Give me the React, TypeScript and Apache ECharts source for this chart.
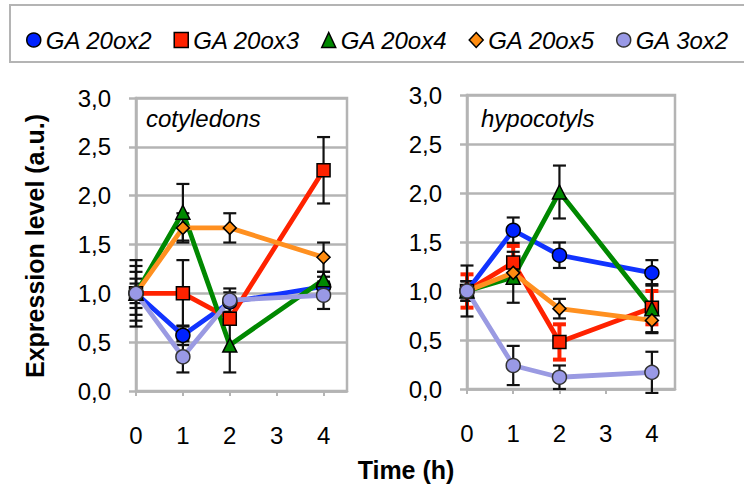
import React, { useEffect, useRef } from "react";
import * as echarts from "echarts";

// ---------- data ----------
const seriesNames = ["GA 20ox2", "GA 20ox3", "GA 20ox4", "GA 20ox5", "GA 3ox2"];
const times = [0, 1, 2, 4];
const xTickValues = [0, 1, 2, 3, 4];
const xTickLabels = ["0", "1", "2", "3", "4"];
const yTickValues = [0, 0.5, 1, 1.5, 2, 2.5, 3];
const panelTitles = ["cotyledons", "hypocotyls"];

// cotyledons
const cotGA20ox2 = [1.0, 0.57, 0.91, 1.07];
const cotGA20ox2Err = [0.22, 0.1, 0.1, 0.1];
const cotGA20ox3 = [1.0, 1.0, 0.74, 2.26];
const cotGA20ox3Err = [0.34, 0.34, 0.05, 0.34];
const cotGA20ox4 = [1.0, 1.83, 0.47, 1.14];
const cotGA20ox4Err = [0.28, 0.29, 0.28, 0.08];
const cotGA20ox5 = [1.0, 1.67, 1.67, 1.37];
const cotGA20ox5Err = [0.15, 0.15, 0.15, 0.15];
const cotGA3ox2 = [1.0, 0.35, 0.93, 0.98];
const cotGA3ox2Err = [0.1, 0.16, 0.12, 0.14];

// hypocotyls
const hypGA20ox2 = [1.0, 1.62, 1.365, 1.185];
const hypGA20ox2Err = [0.1, 0.13, 0.13, 0.13];
const hypGA20ox3 = [1.0, 1.29, 0.48, 0.83];
const hypGA20ox3Err = [0.17, 0.17, 0.18, 0.17];
const hypGA20ox4 = [1.0, 1.14, 2.01, 0.82];
const hypGA20ox4Err = [0.26, 0.26, 0.27, 0.25];
const hypGA20ox5 = [1.0, 1.185, 0.82, 0.7];
const hypGA20ox5Err = [0.1, 0.1, 0.1, 0.12];
const hypGA3ox2 = [1.0, 0.24, 0.12, 0.17];
const hypGA3ox2Err = [0.1, 0.2, 0.12, 0.21];

const panelValues = [
  [cotGA20ox2, cotGA20ox3, cotGA20ox4, cotGA20ox5, cotGA3ox2],
  [hypGA20ox2, hypGA20ox3, hypGA20ox4, hypGA20ox5, hypGA3ox2],
];
const panelErrors = [
  [cotGA20ox2Err, cotGA20ox3Err, cotGA20ox4Err, cotGA20ox5Err, cotGA3ox2Err],
  [hypGA20ox2Err, hypGA20ox3Err, hypGA20ox4Err, hypGA20ox5Err, hypGA3ox2Err],
];

// ---------- style ----------
const FONT = '"Liberation Sans", Arial, sans-serif';
const NARROW = '"Liberation Sans Narrow", "Liberation Sans", Arial, sans-serif';
const GRAY = "#b4b4b4";
const lineColors = ["#1133ff", "#ff2200", "#008800", "#ff9020", "#9a9ae2"];
const markerColors = ["#0022ff", "#ff2200", "#008800", "#ff8c10", "#9999e6"];
const markerBorders = ["#000", "#000", "#000", "#000", "#333"];
const symbols = ["circle", "rect", "triangle", "diamond", "circle"];
const symbolSizes = [14, 13, 14, 13, 14];
const errColors = [
  ["#111", "#111", "#111", "#111", "#111"],
  ["#111", "#ff2200", "#111", "#111", "#111"],
];
const errWidths = [
  [2.2, 2.2, 2.2, 2.2, 2.2],
  [2.2, 4, 2.2, 2.2, 2.2],
];
const grids = [
  { left: 136, top: 98, width: 211, height: 293 },
  { left: 467, top: 95, width: 208, height: 294 },
];
const titlePos = [
  [146, 118],
  [481, 118],
];

function buildOption() {
  const series: any[] = [];
  for (let p = 0; p < 2; p++) {
    for (let s = 0; s < seriesNames.length; s++) {
      const vals = panelValues[p][s];
      const errs = panelErrors[p][s];
      const color = errColors[p][s];
      const lw = errWidths[p][s];
      series.push({
        type: "custom",
        xAxisIndex: p,
        yAxisIndex: p,
        silent: true,
        z: 1,
        encode: { x: 0, y: [1, 2] },
        data: times.map((t, j) => [t, vals[j] - errs[j], vals[j] + errs[j]]),
        renderItem: (params: any, api: any) => {
          const x = api.value(0);
          const lo = api.value(1);
          const hi = api.value(2);
          const a = api.coord([x, hi]);
          const b = api.coord([x, lo]);
          const hw = 6.5;
          const st = { stroke: color, lineWidth: lw };
          return {
            type: "group",
            children: [
              { type: "line", shape: { x1: a[0], y1: a[1], x2: b[0], y2: b[1] }, style: st },
              { type: "line", shape: { x1: a[0] - hw, y1: a[1], x2: a[0] + hw, y2: a[1] }, style: st },
              { type: "line", shape: { x1: b[0] - hw, y1: b[1], x2: b[0] + hw, y2: b[1] }, style: st },
            ],
          };
        },
      });
    }
    for (let s = 0; s < seriesNames.length; s++) {
      const vals = panelValues[p][s];
      series.push({
        type: "line",
        name: seriesNames[s],
        xAxisIndex: p,
        yAxisIndex: p,
        z: 3,
        data: times.map((t, j) => [t, vals[j]]),
        symbol: symbols[s],
        symbolSize: symbolSizes[s],
        showAllSymbol: true,
        lineStyle: { color: lineColors[s], width: 4.8 },
        itemStyle: { color: markerColors[s], borderColor: markerBorders[s], borderWidth: 1.5 },
        emphasis: { disabled: true },
      });
    }
  }

  const xAxis = grids.map((_, p) => ({
    type: "value",
    gridIndex: p,
    min: 0,
    max: 4.5,
    interval: 1,
    axisLine: { show: true, lineStyle: { color: GRAY, width: 2.5 } },
    axisTick: { show: true, length: 5, lineStyle: { color: GRAY, width: 2 }, customValues: xTickValues },
    axisLabel: {
      customValues: xTickValues,
      margin: 32,
      fontSize: 24,
      fontFamily: NARROW,
      color: "#000",
      formatter: (v: number) => {
        const i = xTickValues.indexOf(v);
        return i >= 0 ? xTickLabels[i] : "";
      },
    },
    splitLine: { show: false },
  }));

  const yAxis = grids.map((_, p) => ({
    type: "value",
    gridIndex: p,
    min: 0,
    max: 3,
    interval: 0.5,
    axisLine: { show: true, lineStyle: { color: GRAY, width: 2.5 } },
    axisTick: { show: true, length: 7, lineStyle: { color: GRAY, width: 2.5 } },
    axisLabel: {
      margin: 25,
      fontSize: 24,
      fontFamily: FONT,
      color: "#000",
      formatter: (v: number) => (yTickValues.indexOf(v) >= 0 ? v.toFixed(1).replace(".", ",") : ""),
    },
    splitLine: { show: true, lineStyle: { color: GRAY, width: 2.5 } },
  }));

  return {
    animation: false,
    backgroundColor: "#fff",
    grid: grids.map((g) => ({
      ...g,
      show: true,
      borderColor: GRAY,
      borderWidth: 2.5,
      backgroundColor: "transparent",
    })),
    xAxis,
    yAxis,
    legend: {
      left: 21,
      top: 23,
      width: 740,
      itemGap: 21,
      itemWidth: 14,
      itemHeight: 15,
      itemTextGap: 12,
      selectedMode: false,
      textStyle: { fontSize: 24, fontStyle: "italic", fontFamily: FONT, color: "#000" },
      data: seriesNames.map((n, s) => ({
        name: n,
        icon: symbols[s],
        itemStyle: { color: markerColors[s], borderColor: markerBorders[s], borderWidth: 1.5 },
      })),
    },
    graphic: [
      {
        type: "rect",
        shape: { x: 10, y: 5, width: 760, height: 57 },
        style: { fill: "none", stroke: GRAY, lineWidth: 2 },
        silent: true,
      },
      ...panelTitles.map((t, p) => ({
        type: "text",
        x: titlePos[p][0],
        y: titlePos[p][1],
        style: {
          text: t,
          font: `italic 24px ${FONT}`,
          fill: "#000",
          verticalAlign: "middle",
          textVerticalAlign: "middle",
        },
      })),
      {
        type: "text",
        x: 406,
        y: 470,
        style: {
          text: "Time (h)",
          font: `bold 25px ${FONT}`,
          fill: "#000",
          align: "center",
          textAlign: "center",
          verticalAlign: "middle",
          textVerticalAlign: "middle",
        },
      },
      {
        type: "text",
        x: 35,
        y: 246,
        rotation: Math.PI / 2,
        style: {
          text: "Expression level (a.u.)",
          font: `bold 25px ${FONT}`,
          fill: "#000",
          align: "center",
          textAlign: "center",
          verticalAlign: "middle",
          textVerticalAlign: "middle",
        },
      },
    ],
    series,
  };
}

export default function App() {
  const ref = useRef<HTMLDivElement>(null);
  useEffect(() => {
    const chart = echarts.init(ref.current!, null, { renderer: "svg" });
    chart.setOption(buildOption() as any);
    return () => chart.dispose();
  }, []);
  return (
    <div
      ref={ref}
      style={{ position: "fixed", left: 0, top: 0, width: 744, height: 494, background: "#fff" }}
    />
  );
}
